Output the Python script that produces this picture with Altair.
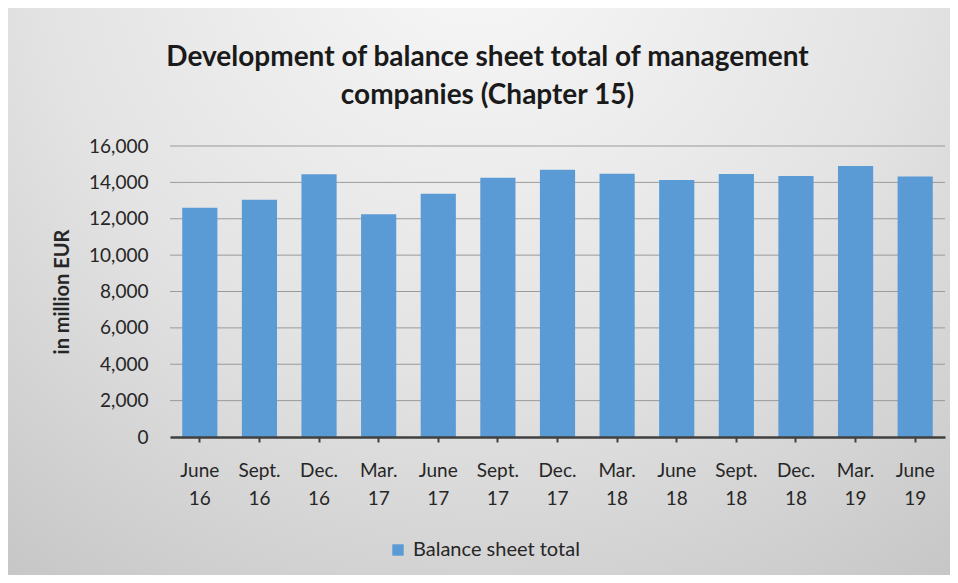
import altair as alt
import pandas as pd

periods = ["June 16", "Sept. 16", "Dec. 16", "Mar. 17", "June 17", "Sept. 17", "Dec. 17",
           "Mar. 18", "June 18", "Sept. 18", "Dec. 18", "Mar. 19", "June 19"]
totals = [12600, 13050, 14450, 12250, 13380, 14250, 14690,
          14470, 14130, 14460, 14350, 14900, 14320]
series_name = "Balance sheet total"
y_ticks = [0, 2000, 4000, 6000, 8000, 10000, 12000, 14000, 16000]
grid_values = [2000, 4000, 6000, 8000, 10000, 12000, 14000, 16000]

df = pd.DataFrame({"period": periods, "value": totals, "series": [series_name] * len(periods)})
grid_df = pd.DataFrame({"value": grid_values})

W, H = 775, 291
PL, PT, PR, PB = 162, 138, 5, 138
FONT = "Lato"

y_scale = alt.Scale(domain=[0, 16000])
y_axis = alt.Axis(title="in million EUR", values=y_ticks, zindex=1, labelOverlap=False,
                  format=",d", labelFont=FONT, labelFontSize=19, labelColor="#262626",
                  labelPadding=22, ticks=False, domain=False, grid=False,
                  titleFont=FONT, titleFontSize=20, titleFontWeight="bold",
                  titleColor="#262626", titleAngle=270, titleX=-108, titleY=H / 2,
                  titleBaseline="middle", titleAlign="center")

bg = alt.Chart(alt.Data(values=[{}])).mark_rect(
    fill=alt.Gradient(
        gradient="radial",
        stops=[alt.GradientStop(color="#f8f8f8", offset=0),
               alt.GradientStop(color="#e3e3e3", offset=0.55),
               alt.GradientStop(color="#c6c6c6", offset=1)],
        x1=0.5, y1=0.12, r1=0, x2=0.5, y2=0.12, r2=0.85,
    ),
    clip=False,
).encode(
    x=alt.value(-PL), x2=alt.value(W + PR),
    y=alt.value(-PT), y2=alt.value(H + PB),
)

grid = alt.Chart(grid_df).mark_rule(color="#9a9a9a", strokeWidth=1).encode(
    y=alt.Y("value:Q", scale=y_scale, axis=y_axis),
)

bars = alt.Chart(df).mark_bar(color="#5b9bd5").encode(
    x=alt.X("period:N", sort=periods,
            scale=alt.Scale(paddingInner=0.41, paddingOuter=0.205),
            axis=alt.Axis(title=None, labelAngle=0, zindex=1,
                          labelExpr="split(datum.label, ' ')",
                          labelFont=FONT, labelFontSize=19, labelColor="#262626",
                          labelLineHeight=28, labelBaseline="top", labelPadding=19,
                          domainColor="#404040", domainWidth=2.5,
                          tickColor="#404040", tickWidth=2, tickSize=5,
                          grid=False)),
    y=alt.Y("value:Q", scale=y_scale, axis=y_axis),
    fill=alt.Fill("series:N",
                  scale=alt.Scale(range=["#5b9bd5"]),
                  legend=alt.Legend(title=None, orient="none", legendX=218, legendY=394,
                                    symbolType="square", symbolSize=130, symbolStrokeWidth=0,
                                    labelFont=FONT, labelFontSize=20, labelColor="#262626",
                                    labelOffset=5, labelLimit=400, zindex=1)),
)

chart = alt.layer(bg, grid, bars).properties(
    width=W, height=H,
    padding={"left": PL, "top": PT, "right": PR, "bottom": PB},
    autosize=alt.AutoSizeParams(type="none"),
    background="#ffffff",
    title=alt.Title(["Development of balance sheet total of management", "companies (Chapter 15)"],
                    font=FONT, fontSize=28, fontWeight="bold", color="#1a1a1a",
                    anchor="middle", dx=-70, lineHeight=38, offset=0, dy=130,
                    baseline="bottom"),
).configure_view(stroke=None)

chart.save("out.html", embed_options={"renderer": "svg", "actions": False})
